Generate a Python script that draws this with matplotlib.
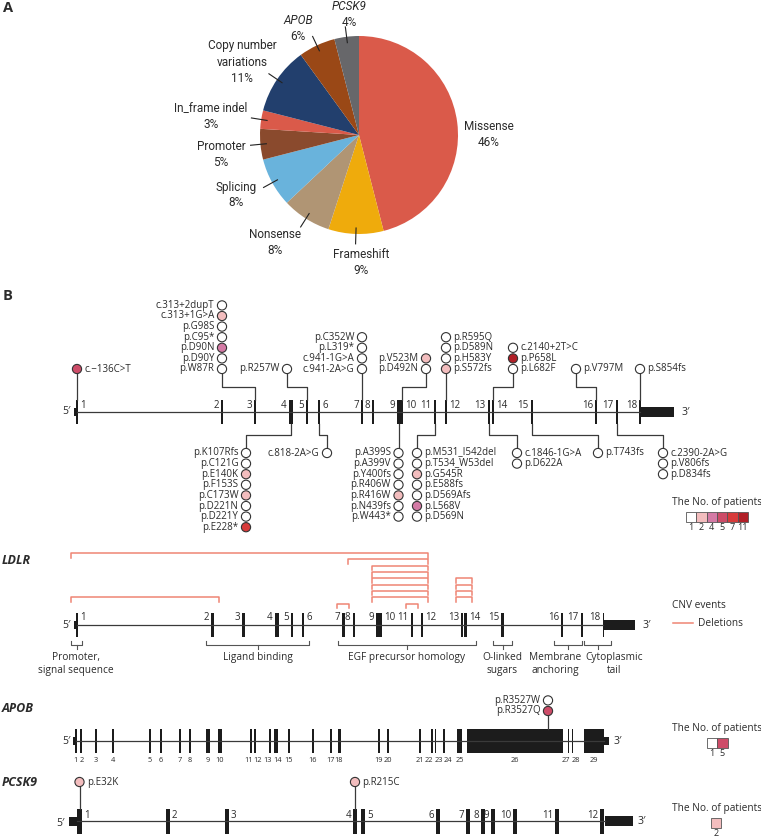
import numpy as np
import matplotlib
matplotlib.use('Agg')
from matplotlib import pyplot as plt, patches

plt.rcParams['font.family'] = ['Open Sans', 'DejaVu Sans']
plt.rcParams['text.color'] = '#2b2b2b'

# ---------------- panel A: mutation spectrum
pie_names = ['Missense', 'Frameshift', 'Nonsense', 'Splicing', 'Promoter',
             'In_frame indel', 'Copy number\nvariations', 'APOB', 'PCSK9']
pie_pct = [46, 9, 8, 8, 5, 3, 11, 6, 4]
pie_colors = ['#da5a4a', '#efab0c', '#b09574', '#69b3dc', '#8a4a2d',
              '#da5a4a', '#223f6d', '#9a4816', '#67676a']
pie_italic = [False] * 7 + [True, True]

# ---------------- panel B: patient count colour scale
patient_levels = [1, 2, 4, 5, 7, 11]
patient_colors = ['#ffffff', '#f3bdbe', '#d47aa5', '#cd4c68', '#d83b3b', '#b11f27']

# LDLR exons (mutation map)
ldlr_exon_num = [str(i) for i in range(1, 19)]
ldlr_exon_x = [77, 222, 255, 291, 307, 319, 362, 373, 398.5, 401.5, 435, 446,
               489, 492.6, 532, 596, 617, 640]
ldlr_exon_w = [1.5, 2.4, 2.4, 4.5, 2.4, 2.4, 2.4, 2.4, 3, 3, 2.4, 2.4,
               2.2, 2.2, 2.4, 2.4, 2.4, 1.5]
ldlr_label_side = 'rllllrlllrlrlrllll'

# LDLR variants above the gene (nearest circle first)
ldlr_up_names = [
    ['c.\u2212136C>T'],
    ['p.W87R', 'p.D90Y', 'p.D90N', 'p.C95*', 'p.G98S', 'c.313+1G>A', 'c.313+2dupT'],
    ['p.R257W'],
    ['c.941-2A>G', 'c.941-1G>A', 'p.L319*', 'p.C352W'],
    ['p.D492N', 'p.V523M'],
    ['p.S572fs', 'p.H583Y', 'p.D589N', 'p.R595Q'],
    ['p.L682F', 'p.P658L', 'c.2140+2T>C'],
    ['p.V797M'],
    ['p.S854fs'],
]
ldlr_up_counts = [[5], [1, 1, 4, 1, 1, 2, 1], [1], [1, 1, 1, 1], [1, 2],
                  [2, 1, 1, 1], [1, 11, 1], [1], [1]]
# (exon index, circle x or None for a straight stem, label side)
ldlr_up_layout = [(0, None, 'r'), (2, 222, 'l'), (4, 287, 'l'), (6, None, 'l'),
                  (9, 426, 'l'), (11, None, 'r'), (13, 513, 'r'), (15, 576, 'r'),
                  (17, None, 'r')]

# LDLR variants below the gene (nearest circle first)
ldlr_dn_names = [
    ['p.K107Rfs', 'p.C121G', 'p.E140K', 'p.F153S', 'p.C173W', 'p.D221N', 'p.D221Y', 'p.E228*'],
    ['c.818-2A>G'],
    ['p.A399S', 'p.A399V', 'p.Y400fs', 'p.R406W', 'p.R416W', 'p.N439fs', 'p.W443*'],
    ['p.M531_I542del', 'p.T534_W53del', 'p.G545R', 'p.E588fs', 'p.D569Afs', 'p.L568V', 'p.D569N'],
    ['c.1846-1G>A', 'p.D622A'],
    ['p.T743fs'],
    ['c.2390-2A>G', 'p.V806fs', 'p.D834fs'],
]
ldlr_dn_counts = [[1, 1, 2, 1, 2, 1, 1, 7], [1], [1, 1, 1, 1, 2, 1, 1],
                  [1, 1, 2, 1, 1, 4, 1], [1, 1], [1], [1, 1, 1]]
ldlr_dn_layout = [(3, 246, 'l'), (5, 327, 'l'), (8, None, 'l'), (10, 417, 'r'),
                  (12, 517, 'r'), (14, 598, 'r'), (16, 663, 'r')]

# LDLR copy number deletions (first exon, last exon, stacking level)
del_first = [1, 8, 9, 9, 9, 9, 9, 9, 1, 7, 11, 13, 13, 13, 13]
del_last = [12, 12, 12, 12, 12, 12, 12, 12, 2, 7, 11, 14, 14, 14, 14]
del_level = [8, 7, 6, 5, 4, 3, 2, 1, 1, 0, 0, 4, 3, 2, 1]

domain_names = ['Promoter,\nsignal sequence', 'Ligand binding', 'EGF precursor homology',
                'O-linked\nsugars', 'Membrane\nanchoring', 'Cytoplasmic\ntail']
domain_span = [(71, 82), (206, 309), (338, 476), (493, 512), (554, 582), (584, 611)]
domain_text_x = [76, 258, 407, 502, 555, 614]

# APOB
apob_exon_num = [str(i) for i in range(1, 30)]
apob_exon_x = [76, 81, 96, 113, 150, 161, 180, 190, 208, 220, 251, 255, 270, 276, 289,
               313, 331, 339, 379, 388, 420, 432, 435.5, 444, 459.5, 515, 568.5, 572.5, 594]
apob_exon_w = [1.4, 1.4, 2.6, 2.6, 2.6, 2.6, 2.6, 1.8, 4, 4, 2.6, 2.6, 2.6, 4, 2.6,
               2.6, 2.6, 3, 2.6, 2.6, 2.6, 1.8, 1.8, 2.6, 5, 96, 1.8, 1.8, 20]
# small label nudges where exons sit close together
apob_label_dx = [-1, 1, 0, 0, 0, 0, 0, 0, 0, 0, -2.5, 2.5, -2, 2, 0,
                 0, 0, 0, 0, 0, 0, -3, 3, 3.5, 0, 0, -3, 3, 0]
apob_names = ['p.R3527Q', 'p.R3527W']
apob_counts = [5, 1]

# PCSK9
pcsk9_exon_num = [str(i) for i in range(1, 13)]
pcsk9_exon_x = [79.5, 168, 227, 355, 363, 438, 468, 483, 493, 515, 557, 602]
pcsk9_exon_w = [5, 4, 3.5, 4, 4, 4, 4, 4, 4, 4, 4, 4]
pcsk9_label_side = 'rrrlrlllllll'
pcsk9_names = ['p.E32K', 'p.R215C']
pcsk9_counts = [2, 2]
pcsk9_mut_exon = [0, 3]

GENE_C = '#1c1c1c'
LINE_C = '#3a3a3a'
DEL_C = '#ef8574'
FS = 7


def pcolor(n):
    return patient_colors[patient_levels.index(n)]


fig = plt.figure(figsize=(7.61, 8.39), dpi=100)
ax = fig.add_axes([0, 0, 1, 1])

# ---- panel A
cx, cy, rad = 359, 135, 99
wedges, _ = ax.pie(pie_pct, colors=pie_colors, startangle=-90, counterclock=True,
                   center=(cx, cy), radius=rad, wedgeprops=dict(linewidth=0))
ax.set_xlim(0, 761)
ax.set_ylim(839, 0)
ax.set_aspect('auto')
ax.axis('off')

pie_label_off = [(130, 0), (2, 127), (-84, 108), (-123, 60), (-138, 20),
                 (-148, -19), (-117, -73), (-61, -107), (-10, -121)]
for i, w in enumerate(wedges):
    th = np.deg2rad((w.theta1 + w.theta2) / 2)
    if i > 0:
        ax.plot([cx + 0.94 * rad * np.cos(th), cx + 1.1 * rad * np.cos(th)],
                [cy + 0.94 * rad * np.sin(th), cy + 1.1 * rad * np.sin(th)],
                color='#222', lw=0.8)
    lines = pie_names[i].split('\n') + ['%d%%' % pie_pct[i]]
    lx, ly = cx + pie_label_off[i][0], cy + pie_label_off[i][1]
    n = len(lines)
    for k, s in enumerate(lines):
        it = pie_italic[i] and k < n - 1
        ax.text(lx, ly - (n - 1) * 8 + k * 16, s, ha='center', va='center',
                fontsize=8.5, family=['Roboto', 'DejaVu Sans'],
                style='italic' if it else 'normal')

ax.text(3, 8, 'A', fontsize=10.5, fontweight='bold', va='center')
ax.text(3, 296, 'B', fontsize=10.5, fontweight='bold', va='center')


def exon(x, w, y, h):
    ax.add_patch(patches.Rectangle((x - w / 2, y - h / 2), w, h,
                                   facecolor=GENE_C, edgecolor='none'))


def exon_labels(xs, ws, nums, sides, y):
    for x, w, s, side in zip(xs, ws, nums, sides):
        if side == 'r':
            ax.text(x + w / 2 + 2, y, s, ha='left', va='center', fontsize=FS)
        else:
            ax.text(x - w / 2 - 2, y, s, ha='right', va='center', fontsize=FS)


def lollipop(ex, ey, cxp, names, counts, side, up, near_y, elbow_y):
    step, r = 10.6, 4.6
    sgn = -1 if up else 1
    start = near_y - sgn * r
    if cxp is None or abs(cxp - ex) < 0.6:
        cxp = ex
        ax.plot([ex, ex], [start, ey], color=LINE_C, lw=0.9)
    else:
        ax.plot([cxp, cxp, ex, ex], [start, elbow_y, elbow_y, ey], color=LINE_C, lw=0.9)
    for k, (s, c) in enumerate(zip(names, counts)):
        y = near_y + sgn * k * step
        ax.add_patch(patches.Circle((cxp, y), r, facecolor=pcolor(c),
                                    edgecolor='#333', lw=0.8, zorder=3))
        if side == 'r':
            ax.text(cxp + r + 3, y, s, ha='left', va='center', fontsize=FS)
        else:
            ax.text(cxp - r - 3, y, s, ha='right', va='center', fontsize=FS)


def patient_legend(x0, y0, levels):
    ax.text(672, y0 - 10, 'The No. of patients', fontsize=7.3, va='center')
    for k, n in enumerate(levels):
        ax.add_patch(patches.Rectangle((x0 + k * 10.3, y0), 10.3, 9.5,
                                       facecolor=pcolor(n), edgecolor='#555', lw=0.6))
        ax.text(x0 + k * 10.3 + 5.15, y0 + 16, str(n), ha='center', va='center', fontsize=6.5)


# ---- LDLR mutation map
Y1, EH = 411.5, 24
ax.plot([77, 640], [Y1, Y1], color=LINE_C, lw=0.9)
ax.add_patch(patches.Rectangle((73.5, Y1 - 4), 3.5, 8, facecolor=GENE_C))
ax.add_patch(patches.Rectangle((640, Y1 - 5), 34, 10, facecolor=GENE_C))
for x, w in zip(ldlr_exon_x, ldlr_exon_w):
    exon(x, w, Y1, EH)
exon_labels(ldlr_exon_x, ldlr_exon_w, ldlr_exon_num, ldlr_label_side, Y1 - 6)
ax.text(66, Y1, '5\u2032', ha='center', va='center', fontsize=7.5)
ax.text(681, Y1 + 1, '3\u2032', ha='left', va='center', fontsize=7.5)

for (ei, cxp, side), names, counts in zip(ldlr_up_layout, ldlr_up_names, ldlr_up_counts):
    lollipop(ldlr_exon_x[ei], Y1 - EH / 2, cxp, names, counts, side, True, 369, 387)
for (ei, cxp, side), names, counts in zip(ldlr_dn_layout, ldlr_dn_names, ldlr_dn_counts):
    lollipop(ldlr_exon_x[ei], Y1 + EH / 2, cxp, names, counts, side, False, 453, 435)

patient_legend(686, 512, patient_levels)

# ---- LDLR CNV map
ax.text(2, 561, 'LDLR', fontsize=9, fontweight='bold', style='italic', va='center')


def cnv_x(x):
    return 77 + 0.935 * (x - 77)


Y2 = 625
cx_exons = [cnv_x(x) for x in ldlr_exon_x]
ax.plot([77, cnv_x(640)], [Y2, Y2], color=LINE_C, lw=0.9)
ax.add_patch(patches.Rectangle((73.5, Y2 - 4), 3.5, 8, facecolor=GENE_C))
ax.add_patch(patches.Rectangle((cnv_x(640), Y2 - 5), cnv_x(674) - cnv_x(640), 10,
                               facecolor=GENE_C))
for x, w in zip(cx_exons, ldlr_exon_w):
    exon(x, w, Y2, EH)
exon_labels(cx_exons, ldlr_exon_w, ldlr_exon_num, ldlr_label_side, Y2 - 7)
ax.text(66, Y2, '5\u2032', ha='center', va='center', fontsize=7.5)
ax.text(cnv_x(674) + 7, Y2, '3\u2032', ha='left', va='center', fontsize=7.5)

for a, b, lev in zip(del_first, del_last, del_level):
    x0 = cx_exons[a - 1] - 6
    x1 = cx_exons[b - 1] + 6
    yb = 603.5 - 6.3 * lev
    ax.plot([x0, x0, x1, x1], [yb + 4.5, yb, yb, yb + 4.5], color=DEL_C, lw=1.1)

for name, (x0, x1), xt in zip(domain_names, domain_span, domain_text_x):
    yb = 645
    ax.plot([x0, x0, x1, x1], [yb - 4, yb, yb, yb - 4], color='#555', lw=0.8)
    xm = (x0 + x1) / 2
    ax.plot([xm, xm], [yb, yb + 4], color='#555', lw=0.8)
    ax.text(xt, yb + 7, name, ha='center', va='top', fontsize=7.3, linespacing=1.2)

ax.text(672, 606, 'CNV events', fontsize=7.3, va='center')
ax.plot([673, 693], [623, 623], color=DEL_C, lw=1.1)
ax.text(698, 623, 'Deletions', fontsize=7.3, va='center')

# ---- APOB
ax.text(2, 709, 'APOB', fontsize=9, fontweight='bold', style='italic', va='center')
Y3 = 741
ax.plot([76, 604], [Y3, Y3], color=LINE_C, lw=0.9)
ax.add_patch(patches.Rectangle((73, Y3 - 4), 3, 8, facecolor=GENE_C))
ax.add_patch(patches.Rectangle((604, Y3 - 4), 4.5, 8, facecolor=GENE_C))
for x, w, s, dx in zip(apob_exon_x, apob_exon_w, apob_exon_num, apob_label_dx):
    exon(x, w, Y3, 24)
    ax.text(x + dx, 761, s, ha='center', va='center', fontsize=5.3)
ax.text(66, Y3, '5\u2032', ha='center', va='center', fontsize=7.5)
ax.text(614, Y3, '3\u2032', ha='left', va='center', fontsize=7.5)
lollipop(548, Y3 - 12, None, apob_names, apob_counts, 'l', True, 711, 711)
patient_legend(707, 738, [1, 5])

# ---- PCSK9
ax.text(2, 783, 'PCSK9', fontsize=9, fontweight='bold', style='italic', va='center')
Y4 = 821
ax.plot([77, 605], [Y4, Y4], color=LINE_C, lw=0.9)
ax.add_patch(patches.Rectangle((69, Y4 - 4.5), 8, 9, facecolor=GENE_C))
ax.add_patch(patches.Rectangle((605, Y4 - 5), 28, 10, facecolor=GENE_C))
for x, w in zip(pcsk9_exon_x, pcsk9_exon_w):
    exon(x, w, Y4, 25)
exon_labels(pcsk9_exon_x, pcsk9_exon_w, pcsk9_exon_num, pcsk9_label_side, Y4 - 6)
ax.text(60, Y4 + 2, '5\u2032', ha='center', va='center', fontsize=7.5)
ax.text(638, Y4 + 1, '3\u2032', ha='left', va='center', fontsize=7.5)
for ei, s, c in zip(pcsk9_mut_exon, pcsk9_names, pcsk9_counts):
    lollipop(pcsk9_exon_x[ei], Y4 - 12.5, None, [s], [c], 'r', True, 782, 782)
patient_legend(711, 818, [2])

fig.savefig('out.png', dpi=100)
